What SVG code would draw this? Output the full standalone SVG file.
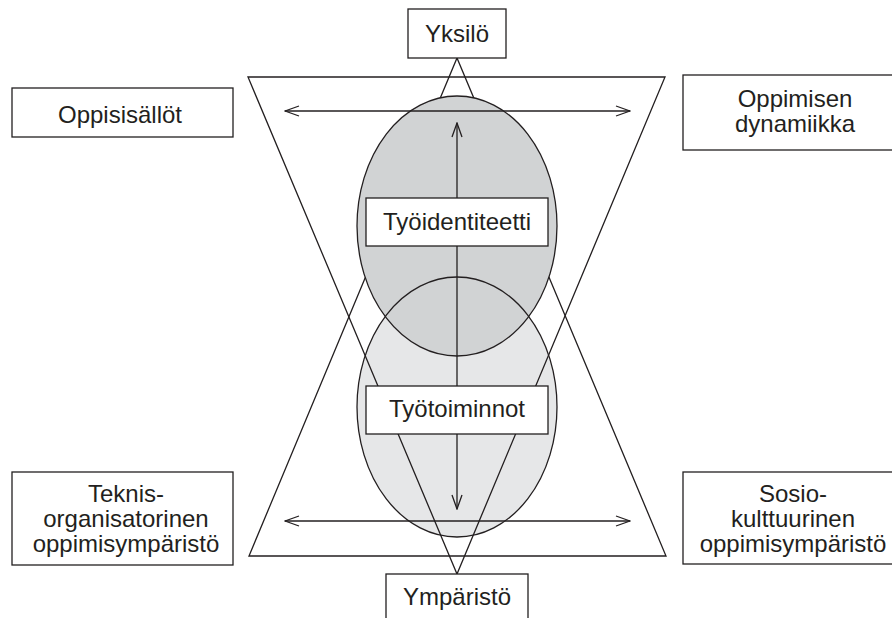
<svg xmlns="http://www.w3.org/2000/svg" width="892" height="618" viewBox="0 0 892 618">
<style>
.ln{fill:none;stroke:#231f20;stroke-width:1.3}
.box{fill:#fff;stroke:#231f20;stroke-width:1.3}
.t{font-family:"Liberation Sans",Arial,sans-serif;font-size:24px;fill:#231f20;text-anchor:middle}
</style>
<defs>
<marker id="ah" viewBox="0 0 16 12" refX="15" refY="6" markerWidth="16" markerHeight="12" markerUnits="userSpaceOnUse" orient="auto-start-reverse">
<path d="M1,1 L15,6 L1,11" fill="none" stroke="#231f20" stroke-width="1.3"/>
</marker>
</defs>
<rect width="892" height="618" fill="#fff"/>
<g id="ellipse-lower-fill">
<ellipse cx="457" cy="407" rx="100" ry="130" fill="#e6e7e8"/>
</g>
<g id="triangles">
<polygon class="ln" points="248,77 665,77 457,574"/>
<polygon class="ln" points="249,556 666,556 457,58"/>
</g>
<g id="ellipse-upper">
<ellipse cx="457" cy="226" rx="100" ry="130" fill="#d1d3d4" stroke="#231f20" stroke-width="1.3"/>
</g>
<g id="ellipse-lower-outline">
<ellipse class="ln" cx="457" cy="407" rx="100" ry="130"/>
</g>
<g id="connectors">
<line class="ln" x1="285" y1="111" x2="630" y2="111" marker-start="url(#ah)" marker-end="url(#ah)"/>
<line class="ln" x1="285" y1="521" x2="630" y2="521" marker-start="url(#ah)" marker-end="url(#ah)"/>
<line class="ln" x1="457" y1="123" x2="457" y2="509" marker-start="url(#ah)" marker-end="url(#ah)"/>
</g>
<g id="yksilo">
<rect class="box" x="408" y="9" width="98" height="49"/>
<text class="t" x="457" y="42">Yksilö</text>
</g>
<g id="oppisisallot">
<rect class="box" x="12" y="88" width="221" height="49"/>
<text class="t" x="120" y="123">Oppisisällöt</text>
</g>
<g id="oppimisen-dynamiikka">
<rect class="box" x="683" y="75" width="220" height="75"/>
<text class="t" x="795" y="107">Oppimisen</text>
<text class="t" x="795" y="132">dynamiikka</text>
</g>
<g id="tyoidentiteetti">
<rect class="box" x="366" y="198" width="182" height="48"/>
<text class="t" x="457" y="230">Työidentiteetti</text>
</g>
<g id="tyotoiminnot">
<rect class="box" x="366" y="386" width="182" height="48"/>
<text class="t" x="457" y="417">Työtoiminnot</text>
</g>
<g id="teknis">
<rect class="box" x="12" y="472" width="221" height="93"/>
<text class="t" x="126" y="502">Teknis-</text>
<text class="t" x="126" y="527">organisatorinen</text>
<text class="t" x="126" y="552">oppimisympäristö</text>
</g>
<g id="sosio">
<rect class="box" x="683" y="472" width="220" height="92"/>
<text class="t" x="793" y="502">Sosio-</text>
<text class="t" x="793" y="527">kulttuurinen</text>
<text class="t" x="793" y="552">oppimisympäristö</text>
</g>
<g id="ymparisto">
<rect class="box" x="386" y="574" width="142" height="60"/>
<text class="t" x="457" y="605">Ympäristö</text>
</g>
</svg>
